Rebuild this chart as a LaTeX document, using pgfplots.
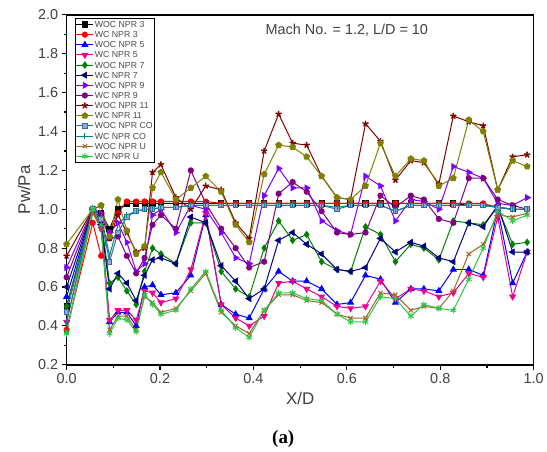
\documentclass[border=0pt]{standalone}
\usepackage{fontspec}
\setmainfont{Liberation Sans}
\newfontfamily\timesfont{Liberation Serif}
\usepackage{pgfplots}
\usepackage{pgfplotstable}
\pgfplotsset{compat=1.18}
\usetikzlibrary{plotmarks}

\definecolor{cwoc7}{RGB}{0,128,0}
\definecolor{cwc7}{RGB}{0,0,128}
\definecolor{cwoc9}{RGB}{128,0,255}
\definecolor{cwc9}{RGB}{128,0,128}
\definecolor{cwoc11}{RGB}{128,0,0}
\definecolor{cwc11}{RGB}{128,128,0}
\definecolor{cwocco}{RGB}{55,105,165}
\definecolor{cwcco}{RGB}{0,135,135}
\definecolor{cwocu}{RGB}{160,100,40}
\definecolor{cwcu}{RGB}{40,200,70}

% x, then Pw/Pa of every case
\pgfplotstableread{
x     woc3 wc3  woc5 wc5  woc7 wc7  woc9 wc9  woc11 wc11 wocco wcco wocu wcu
0.000 0.50 0.38 0.55 0.42 0.50 0.60 0.70 0.65 0.76 0.82 0.47 0.42 0.37 0.36
0.056 1.00 0.93 1.00 1.00 1.00 1.00 1.00 1.00 1.00 1.00 1.00 1.00 0.98 1.00
0.074 0.98 0.76 0.93 0.90 0.95 0.92 0.98 0.97 1.02 1.02 0.95 0.97 0.90 0.92
0.092 0.90 0.88 0.42 0.43 0.62 0.59 0.88 0.85 0.85 0.86 0.73 0.76 0.38 0.36
0.110 1.00 0.98 0.47 0.48 0.65 0.67 0.93 0.86 0.97 1.05 0.88 0.92 0.45 0.44
0.129 1.03 1.04 0.47 0.48 0.58 0.62 0.83 0.76 0.88 0.89 0.96 0.97 0.45 0.43
0.149 1.03 1.04 0.40 0.43 0.51 0.53 0.68 0.67 0.78 0.77 0.99 0.99 0.38 0.37
0.167 1.03 1.04 0.60 0.58 0.68 0.66 0.72 0.75 0.80 0.81 1.00 1.00 0.55 0.56
0.184 1.03 1.04 0.61 0.57 0.80 0.74 0.97 0.92 1.19 1.11 1.00 1.00 0.52 0.51
0.202 1.03 1.04 0.56 0.52 0.77 0.75 1.00 0.97 1.23 1.19 1.01 1.01 0.47 0.46
0.234 1.03 1.04 0.57 0.54 0.72 0.72 0.88 0.90 1.06 1.05 1.01 1.01 0.49 0.48
0.266 1.03 1.04 0.66 0.69 0.93 0.96 1.02 1.20 1.00 1.11 1.02 1.02 0.58 0.59
0.298 1.03 1.04 0.97 0.98 0.93 0.93 1.00 1.03 1.12 1.17 1.02 1.02 0.67 0.68
0.331 1.03 1.03 0.51 0.51 0.68 0.71 0.88 0.90 1.10 1.09 1.02 1.02 0.47 0.48
0.362 1.03 1.03 0.46 0.44 0.59 0.63 0.75 0.80 0.93 0.92 1.02 1.02 0.40 0.39
0.391 1.03 1.03 0.44 0.40 0.55 0.54 0.72 0.70 0.85 0.83 1.02 1.02 0.36 0.34
0.423 1.03 1.03 0.59 0.45 0.80 0.59 1.07 0.73 1.30 1.18 1.02 1.02 0.48 0.48
0.454 1.03 1.03 0.68 0.62 0.94 0.84 1.21 1.08 1.49 1.33 1.02 1.02 0.56 0.57
0.484 1.03 1.03 0.63 0.63 0.84 0.88 1.11 1.14 1.34 1.32 1.02 1.02 0.56 0.57
0.514 1.03 1.03 0.63 0.59 0.87 0.82 1.11 1.09 1.33 1.27 1.02 1.02 0.53 0.54
0.546 1.03 1.03 0.59 0.55 0.73 0.77 0.94 0.99 1.17 1.17 1.02 1.02 0.52 0.53
0.579 1.03 1.03 0.51 0.50 0.69 0.69 0.89 0.88 1.06 1.06 1.00 1.01 0.46 0.46
0.608 1.03 1.03 0.52 0.49 0.68 0.68 0.87 0.87 1.05 1.05 1.02 1.02 0.44 0.42
0.640 1.03 1.03 0.66 0.50 0.91 0.70 1.17 0.88 1.44 1.12 1.02 1.02 0.44 0.42
0.672 1.03 1.03 0.64 0.63 0.87 0.85 1.12 1.07 1.35 1.34 1.02 1.02 0.57 0.55
0.704 1.03 1.03 0.52 0.54 0.73 0.78 0.94 1.01 1.15 1.17 0.99 0.99 0.56 0.54
0.737 1.03 1.03 0.59 0.59 0.82 0.83 1.05 1.07 1.25 1.26 1.02 1.02 0.48 0.45
0.765 1.03 1.03 0.59 0.58 0.80 0.81 1.04 1.05 1.24 1.25 1.02 1.02 0.50 0.51
0.797 1.03 1.03 0.58 0.55 0.74 0.75 1.00 0.95 1.13 1.12 1.02 1.02 0.49 0.49
0.828 1.03 1.03 0.69 0.57 0.94 0.73 1.22 0.93 1.48 1.16 1.02 1.02 0.58 0.48
0.861 1.02 1.03 0.69 0.67 0.93 0.93 1.19 1.16 1.45 1.46 1.02 1.02 0.77 0.64
0.892 1.02 1.03 0.66 0.65 0.92 0.91 1.16 1.16 1.43 1.40 1.02 1.02 0.82 0.80
0.923 1.01 1.01 1.00 0.96 1.01 1.02 1.03 1.05 1.10 1.10 1.01 1.01 0.97 0.99
0.955 1.00 1.00 0.62 0.55 0.82 0.78 1.02 1.02 1.27 1.25 1.00 1.00 0.96 0.94
0.986 1.00 1.00 0.78 0.78 0.83 0.78 1.06 1.00 1.28 1.22 1.00 1.00 0.98 0.97
}\data

\begin{document}
\begin{tikzpicture}
\begin{axis}[name=ax, scale only axis, width=470pt, height=352pt,
  xmin=0, xmax=1, ymin=0.2, ymax=2.0,
  xtick={0,0.2,...,1.0}, ytick={0.2,0.4,...,2.0},
  minor x tick num=1, minor y tick num=1,
  xtick pos=bottom, ytick pos=left, tick align=outside,
  major tick length=5pt, minor tick length=3pt,
  axis line style={line width=1.6pt},
  every tick/.style={line width=1.2pt, black},
  xticklabel style={/pgf/number format/.cd, fixed, fixed zerofill, precision=1, assume math mode=true},
  yticklabel style={/pgf/number format/.cd, fixed, fixed zerofill, precision=1, assume math mode=true},
  tick label style={font=\fontsize{14.5}{14.5}\selectfont, text=black!75},
  xlabel={X/D}, ylabel={Pw/Pa},
  xlabel style={yshift=-2pt},
  ylabel style={yshift=1pt},
  label style={font=\fontsize{17}{17}\selectfont, text=black!75},
  legend cell align=left,
  legend style={at={(0.017,0.991)}, anchor=north west, draw=black, line width=0.8pt,
    font=\fontsize{8.8}{8.8}\selectfont, text=black!70, inner sep=1pt, row sep=0pt,
    nodes={inner ysep=1.6pt, inner xsep=1pt, text height=6.5pt, text depth=0.5pt}},
  every axis plot/.append style={line width=1pt, mark size=2.6pt}]
\addplot[black, mark=square*] table[x=x, y=woc3] {\data};
\addlegendentry{WOC NPR 3}
\addplot[red, mark=*] table[x=x, y=wc3] {\data};
\addlegendentry{WC NPR 3}
\addplot[blue, mark=triangle*, mark size=3.2pt] table[x=x, y=woc5] {\data};
\addlegendentry{WOC NPR 5}
\addplot[magenta, mark=triangle*, mark size=3.2pt, mark options={rotate=180}] table[x=x, y=wc5] {\data};
\addlegendentry{WC NPR 5}
\addplot[cwoc7, mark=diamond*, mark size=3pt] table[x=x, y=woc7] {\data};
\addlegendentry{WOC NPR 7}
\addplot[cwc7, mark=triangle*, mark size=3.2pt, mark options={rotate=90}] table[x=x, y=wc7] {\data};
\addlegendentry{WC NPR 7}
\addplot[cwoc9, mark=triangle*, mark size=3.2pt, mark options={rotate=-90}] table[x=x, y=woc9] {\data};
\addlegendentry{WOC NPR 9}
\addplot[cwc9, mark=*] table[x=x, y=wc9] {\data};
\addlegendentry{WC NPR 9}
\addplot[cwoc11, mark=star, mark size=3.2pt, mark options={line width=1.4pt}] table[x=x, y=woc11] {\data};
\addlegendentry{WOC NPR 11}
\addplot[cwc11, mark=pentagon*, mark size=3pt] table[x=x, y=wc11] {\data};
\addlegendentry{WC NPR 11}
\addplot[cwocco, mark=square*, mark size=2.3pt, mark options={fill=cwocco!55}] table[x=x, y=wocco] {\data};
\addlegendentry{WOC NPR CO}
\addplot[cwcco, mark=|, mark size=3pt] table[x=x, y=wcco] {\data};
\addlegendentry{WC NPR CO}
\addplot[cwocu, mark=x, mark size=3pt] table[x=x, y=wocu] {\data};
\addlegendentry{WOC NPR U}
\addplot[cwcu, mark=asterisk, mark size=3.2pt] table[x=x, y=wcu] {\data};
\addlegendentry{WC NPR U}
\end{axis}
\node[font=\fontsize{14.5}{14.5}\selectfont, text=black!75] at ([xshift=282pt, yshift=-15pt]ax.north west) {Mach No. = 1.2, L/D = 10};
\node[font=\timesfont\bfseries\fontsize{19}{19}\selectfont] at ([xshift=-17pt, yshift=-75pt]ax.south) {(a)};
\path ([shift={(-67pt,-85pt)}]ax.south west) rectangle ([shift={(10pt,15pt)}]ax.north east);
\end{tikzpicture}
\end{document}
